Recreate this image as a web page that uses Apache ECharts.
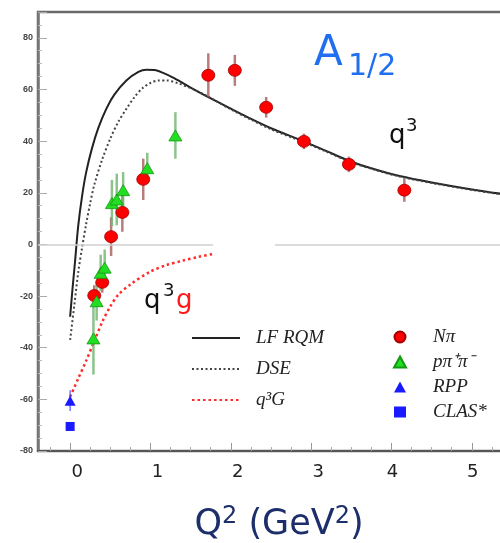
<!DOCTYPE html>
<html>
<head>
<meta charset="utf-8">
<script src="https://cdn.jsdelivr.net/npm/echarts@6/dist/echarts.min.js"></script>
<style>
  html, body { margin: 0; padding: 0; background: #fff; }
  #chart { width: 500px; height: 543px; }
</style>
</head>
<body>
<div id="chart"></div>
<script>
// Helicity amplitude A1/2 versus Q² (GeV²)

// LF RQM model curve
const lfrqmQ2 = [0, 0.03, 0.06, 0.1, 0.15, 0.2, 0.27, 0.35, 0.45, 0.55, 0.7, 0.85, 0.95, 1.05, 1.15, 1.3, 1.5, 1.72, 2.0, 2.24, 2.5, 2.9, 3.2, 3.5, 3.8, 4.1, 4.5, 5.0, 5.5];
const lfrqmA  = [-28, -17, -7, 7, 19, 28, 37, 45, 52.5, 58, 63.5, 66.8, 67.6, 67.5, 66.5, 64.3, 60.7, 57, 52.6, 48.8, 45, 40, 36, 32, 29, 26.5, 24, 21.3, 19];

// DSE model curve
const dseQ2 = [0, 0.05, 0.1, 0.15, 0.2, 0.25, 0.3, 0.4, 0.5, 0.6, 0.7, 0.8, 0.9, 1.0, 1.1, 1.2, 1.35, 1.5, 1.72, 2.0, 2.24, 2.5, 2.9, 3.2, 3.5, 3.8, 4.1, 4.5, 5.0, 5.5];
const dseA  = [-37, -24, -11, -1, 8, 16, 23, 33, 41, 47.5, 52.5, 57, 60.5, 62.5, 63.5, 63.5, 62.3, 60.5, 57.2, 52.3, 48.5, 44.6, 39.7, 35.8, 31.8, 28.8, 26.3, 23.8, 21.1, 18.8];

// q³G curve
const q3gQ2 = [0, 0.1, 0.2, 0.3, 0.4, 0.5, 0.6, 0.75, 1.0, 1.2, 1.4, 1.6, 1.78];
const q3gA  = [-59, -52, -45, -37.5, -30, -24, -19.5, -15.5, -10.5, -8, -6.3, -4.8, -3.7];

// N pi data
const npiQ2  = [0.30, 0.40, 0.51, 0.65, 0.91, 1.72, 2.05, 2.44, 2.91, 3.47, 4.16];
const npiA   = [-19.8, -14.7, 3, 12.4, 25.2, 65.5, 67.4, 53.1, 39.9, 31.0, 21.0];
const npiErr = [4, 4, 7.5, 7.5, 8, 8.5, 6, 4, 3, 3, 4.5];

// p pi+ pi- data
const ppipiQ2  = [0.29, 0.33, 0.38, 0.43, 0.52, 0.58, 0.66, 0.96, 1.31];
const ppipiA   = [-36.4, -22, -11, -9, 16, 17.4, 21, 29.5, 42.2];
const ppipiErr = [14, 7.5, 7, 7, 9, 10, 7, 6, 9];

// photon points
const rppQ2 = [0];
const rppA = [-60.5];
const rppErr = [4];
const clasQ2 = [0];
const clasA = [-70.5];

// axis ticks
const xMajorTicks = [0, 1, 2, 3, 4, 5];
const yTickStep = 20;

const xMinorTicks = [];
[-1].concat(xMajorTicks).forEach(function (m) {
  [0.25, 0.5, 0.75].forEach(function (f) {
    const v = m + f;
    if (v > -0.4 && v < 5.5) xMinorTicks.push(v);
  });
});

function pairs(xs, ys) { return xs.map(function (x, i) { return [x, ys[i]]; }); }

function errorBars(xs, ys, es, color, width) {
  return {
    type: 'custom',
    silent: true,
    z: 3,
    data: xs.map(function (x, i) { return [x, ys[i] - es[i], ys[i] + es[i]]; }),
    encode: { x: 0, y: [1, 2] },
    renderItem: function (params, api) {
      const lo = api.coord([api.value(0), api.value(1)]);
      const hi = api.coord([api.value(0), api.value(2)]);
      return {
        type: 'line',
        shape: { x1: lo[0], y1: lo[1], x2: hi[0], y2: hi[1] },
        style: { stroke: color, lineWidth: width }
      };
    }
  };
}

const serifItalic = { fontFamily: 'Liberation Serif', fontStyle: 'italic', fontSize: 19, color: '#222' };
const handFont = 'DejaVu Sans';

const chart = echarts.init(document.getElementById('chart'));
chart.setOption({
  animation: false,
  grid: {
    left: 38, right: -12, top: 12, bottom: 92,
    outerBoundsMode: 'none', containLabel: false,
    show: true, borderColor: '#6a6a6a', borderWidth: 2.5, backgroundColor: '#fff'
  },
  xAxis: [
    {
      type: 'value', min: -0.4, max: 5.5, position: 'bottom',
      splitLine: { show: false },
      axisLine: { show: true, onZero: false, lineStyle: { color: '#555', width: 2 } },
      axisTick: { show: true, inside: true, length: 8, customValues: xMajorTicks, lineStyle: { color: '#999', width: 1 } },
      axisLabel: {
        customValues: xMajorTicks, margin: 12,
        formatter: function (v) { return (v <= 3 ? '{s|' : '{n|') + v + '}'; },
        rich: {
          s: { fontFamily: handFont, fontSize: 18, color: '#222', padding: [0, 0, 0, 14] },
          n: { fontFamily: handFont, fontSize: 18, color: '#222', padding: [0, 0, 0, 2] }
        }
      },
      name: '{b|Q}{s|2}{b| (GeV}{s|2}{b|)}',
      nameLocation: 'middle', nameGap: 52,
      nameTextStyle: {
        padding: [0, 0, 0, 8],
        rich: {
          b: { fontFamily: handFont, fontSize: 35, color: '#1c2f6b', lineHeight: 39, verticalAlign: 'bottom' },
          s: { fontFamily: handFont, fontSize: 24, color: '#1c2f6b', lineHeight: 39, verticalAlign: 'top', padding: [2, 0, 0, 0] }
        }
      }
    },
    {
      type: 'value', min: -0.4, max: 5.5, position: 'bottom',
      splitLine: { show: false },
      axisLine: { show: false, onZero: false },
      axisTick: { show: true, inside: true, length: 4, customValues: xMinorTicks, lineStyle: { color: '#aaa', width: 1 } },
      axisLabel: { show: false }
    }
  ],
  yAxis: {
    type: 'value', min: -80, max: 90, interval: yTickStep,
    splitLine: { show: false },
    axisLine: { show: true, onZero: false, lineStyle: { color: '#777', width: 2.5 } },
    axisTick: { show: true, inside: true, length: 9, lineStyle: { color: '#aaa', width: 1 } },
    minorTick: { show: true, splitNumber: 4, length: 4, lineStyle: { color: '#bbb', width: 1 } },
    axisLabel: {
      margin: 5, fontFamily: 'Liberation Sans', fontSize: 9, fontWeight: 'bold', color: '#444',
      formatter: function (v) { return v % yTickStep === 0 && v <= 80 ? String(v) : ''; }
    }
  },
  legend: [
    {
      data: ['LF RQM', 'DSE', 'q³G'],
      orient: 'vertical', left: 191, top: 328, padding: 0,
      itemWidth: 48, itemHeight: 14, itemGap: 11,
      selectedMode: false,
      itemStyle: { opacity: 0 },
      textStyle: Object.assign({ lineHeight: 20, padding: [0, 0, 0, 11] }, serifItalic)
    },
    {
      data: ['Nπ', 'pπ⁺π⁻', 'RPP', 'CLAS*'],
      orient: 'vertical', left: 393, top: 327, padding: 0,
      itemWidth: 12, itemHeight: 11, itemGap: 5,
      selectedMode: false,
      textStyle: Object.assign({ lineHeight: 20, padding: [0, 0, 0, 22] }, serifItalic)
    }
  ],
  series: [
    {
      name: 'LF RQM', type: 'line', smooth: 0.3, symbol: 'none', z: 2,
      data: pairs(lfrqmQ2, lfrqmA),
      lineStyle: { color: '#222', width: 2 },
      itemStyle: { color: '#222' },
      markLine: {
        silent: true, symbol: 'none', label: { show: false },
        lineStyle: { color: '#cfcfcf', width: 1.5, type: 'solid' },
        data: [
          [{ coord: [-0.4, 0] }, { coord: [1.78, 0] }],
          [{ coord: [2.55, 0] }, { coord: [5.5, 0] }]
        ]
      }
    },
    {
      name: 'DSE', type: 'line', smooth: 0.3, symbol: 'none', z: 2,
      data: pairs(dseQ2, dseA),
      lineStyle: { color: '#444', width: 2, type: [2, 2.5] },
      itemStyle: { color: '#444' }
    },
    {
      name: 'q³G', type: 'line', smooth: 0.3, symbol: 'none', z: 2,
      data: pairs(q3gQ2, q3gA),
      lineStyle: { color: '#ff2a2a', width: 2.5, type: [2.5, 3] },
      itemStyle: { color: '#ff2a2a' }
    },
    errorBars(npiQ2, npiA, npiErr, 'rgba(160,80,80,0.75)', 2.5),
    errorBars(ppipiQ2, ppipiA, ppipiErr, 'rgba(110,180,110,0.8)', 2.5),
    errorBars(rppQ2, rppA, rppErr, 'rgba(60,60,255,0.7)', 1.5),
    {
      name: 'Nπ', type: 'scatter', z: 4, symbol: 'circle', symbolSize: [13, 12],
      data: pairs(npiQ2, npiA),
      itemStyle: { color: '#ff0000', borderColor: '#a00000', borderWidth: 0.8, opacity: 1 }
    },
    {
      name: 'pπ⁺π⁻', type: 'scatter', z: 4, symbol: 'triangle', symbolSize: [13, 11],
      data: pairs(ppipiQ2, ppipiA),
      itemStyle: { color: '#22dd22', borderColor: '#119911', borderWidth: 0.8, opacity: 1 }
    },
    {
      name: 'RPP', type: 'scatter', z: 4, symbol: 'triangle', symbolSize: [11, 10],
      data: pairs(rppQ2, rppA),
      itemStyle: { color: '#1a1aff', opacity: 1 }
    },
    {
      name: 'CLAS*', type: 'scatter', z: 4, symbol: 'rect', symbolSize: 9,
      data: pairs(clasQ2, clasA),
      itemStyle: { color: '#1a1aff', opacity: 1 }
    }
  ],
  graphic: [
    { type: 'text', left: 314, top: 33, z: 10, style: { text: 'A', font: '42px "DejaVu Sans"', fill: '#1f6ff0' } },
    { type: 'text', left: 348, top: 52, z: 10, style: { text: '1/2', font: '30px "DejaVu Sans"', fill: '#1f6ff0' } },
    { type: 'text', left: 389, top: 123, z: 10, style: { text: 'q', font: '26px "DejaVu Sans"', fill: '#111' } },
    { type: 'text', left: 406, top: 117, z: 10, style: { text: '3', font: '18px "DejaVu Sans"', fill: '#111' } },
    { type: 'text', left: 144, top: 288, z: 10, style: { text: 'q', font: '26px "DejaVu Sans"', fill: '#111' } },
    { type: 'text', left: 163, top: 282, z: 10, style: { text: '3', font: '18px "DejaVu Sans"', fill: '#111' } },
    { type: 'text', left: 176, top: 288, z: 10, style: { text: 'g', font: '26px "DejaVu Sans"', fill: '#ff1a1a' } }
  ]
});
</script>
</body>
</html>
